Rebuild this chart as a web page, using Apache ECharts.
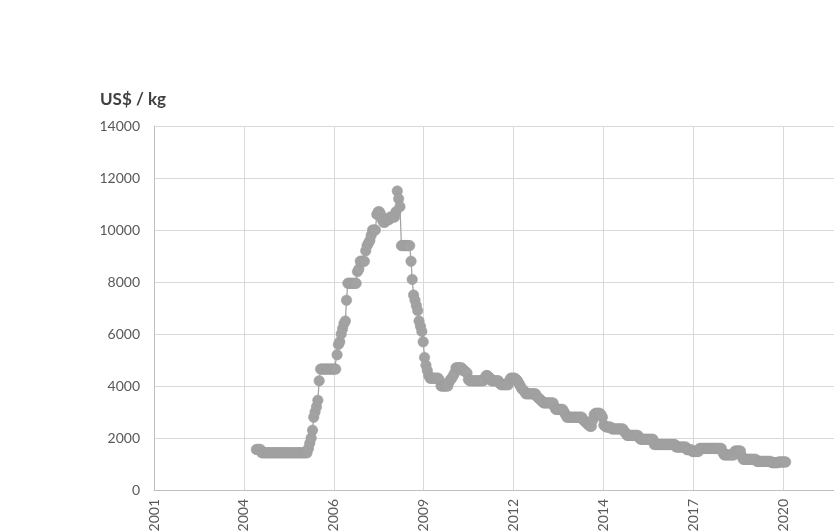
<!DOCTYPE html>
<html><head><meta charset="utf-8">
<script src="https://cdn.jsdelivr.net/npm/echarts@6/dist/echarts.min.js"></script>
<style>html,body{margin:0;padding:0;background:#fff}#c{width:834px;height:531px}</style>
</head><body><div id="c"></div>
<script>
const unitLabel = 'US$ / kg';
// Readings twice a month (1st and 16th), starting June 2004
const firstMonthOfData = 6;
const price2004 = [1560,1560,1560,1560,1430,1430,1430,1430,1430,1430,1430,1430,1430,1430];
const price2005 = [1430,1430,1430,1430,1430,1430,1430,1430,1430,1430,1430,1430,1430,1430,1430,1430,1430,1430,1430,1430,1430,1430,1430,1430];
const price2006 = [1600,1800,2000,2300,2800,3000,3200,3450,4200,4650,4650,4650,4650,4650,4650,4650,4650,4650,4650,4650,4650,5200,5600,5700];
const price2007 = [6000,6200,6400,6500,7300,7950,7950,7950,7950,7950,7950,7950,8400,8500,8800,8800,8800,8800,9200,9400,9500,9600,9800,10000];
const price2008 = [10000,10000,10600,10700,10700,10600,10400,10300,10300,10400,10400,10400,10500,10500,10500,10500,10700,11500,11200,10900,9400,9400,9400,9400];
const price2009 = [9400,9400,9400,8800,8100,7500,7300,7100,6900,6500,6300,6100,5700,5100,4800,4600,4400,4300,4300,4300,4300,4300,4300,4300];
const price2010 = [4200,4000,4000,4000,4000,4000,4000,4150,4250,4300,4400,4500,4700,4700,4700,4700,4700,4600,4600,4550,4500,4250,4200,4200];
const price2011 = [4200,4200,4200,4200,4200,4200,4200,4200,4200,4300,4400,4400,4350,4300,4200,4200,4200,4200,4200,4200,4100,4050,4050,4050];
const price2012 = [4050,4050,4050,4200,4300,4300,4300,4300,4250,4200,4100,4000,3900,3850,3800,3700,3700,3700,3700,3700,3700,3700,3700,3600];
const price2013 = [3550,3500,3450,3400,3350,3350,3350,3350,3350,3350,3350,3350,3200,3100,3100,3100,3100,3100,3100,3000,2900,2800,2800,2800];
const price2014 = [2800,2800,2800,2800,2800,2800,2800,2800,2800,2700,2650,2600,2550,2500,2450,2450,2700,2900,2950,2950,2950,2950,2900,2800];
const price2015 = [2500,2450,2420,2420,2420,2420,2350,2350,2350,2350,2350,2350,2350,2350,2350,2250,2200,2100,2100,2100,2100,2100,2100,2100];
const price2016 = [2100,2100,2000,1950,1950,1950,1950,1950,1950,1950,1950,1950,1950,1750,1750,1750,1750,1750,1750,1750,1750,1750,1750,1750];
const price2017 = [1750,1750,1750,1750,1750,1650,1650,1650,1650,1650,1650,1650,1650,1550,1550,1550,1550,1480,1480,1480,1480,1480,1600,1600];
const price2018 = [1600,1600,1600,1600,1600,1600,1600,1600,1600,1600,1600,1600,1600,1600,1600,1450,1350,1350,1350,1350,1350,1350,1350,1350];
const price2019 = [1500,1500,1500,1500,1500,1300,1180,1180,1180,1180,1180,1180,1180,1180,1180,1180,1100,1100,1100,1100,1100,1100,1100,1100];
const price2020 = [1100,1100,1100,1050,1050,1050,1050,1050,1080,1080,1080,1080,1080,1080];
const yearlyPrices = [
  [2004, price2004],[2005, price2005],[2006, price2006],[2007, price2007],[2008, price2008],
  [2009, price2009],[2010, price2010],[2011, price2011],[2012, price2012],[2013, price2013],
  [2014, price2014],[2015, price2015],[2016, price2016],[2017, price2017],[2018, price2018],
  [2019, price2019],[2020, price2020]
];
// X axis in spreadsheet day serials, gridlines every 1000 days
const xMin = 37000, xMax = 45000, xStep = 1000;
const yTicks = [0, 2000, 4000, 6000, 8000, 10000, 12000, 14000];

function serial(y, m, d) { return Date.UTC(y, m - 1, d) / 86400000 + 25569; }
const seriesData = [];
yearlyPrices.forEach(([yr, arr], i) => {
  const startM = i === 0 ? firstMonthOfData : 1;
  arr.forEach((v, j) => {
    const m = startM + Math.floor(j / 2);
    const d = j % 2 === 0 ? 1 : 16;
    seriesData.push([serial(yr, m, d), v]);
  });
});

const FONT = 'Lato, "Open Sans", sans-serif';
const chart = echarts.init(document.getElementById('c'), null, {renderer: 'canvas'});
chart.setOption({
  animation: false,
  backgroundColor: '#ffffff',
  title: {
    text: unitLabel, left: 95, top: 86,
    textStyle: {fontFamily: FONT, fontSize: 17, fontWeight: 'bold', color: '#404040'}
  },
  grid: {left: 154, top: 126, width: 719, height: 364, containLabel: false, outerBoundsMode: 'none'},
  xAxis: {
    type: 'value', min: xMin, max: xMax, interval: xStep,
    axisLine: {show: true, lineStyle: {color: '#bfbfbf', width: 1}},
    axisTick: {show: false},
    splitLine: {show: true, lineStyle: {color: '#d9d9d9', width: 1}},
    axisLabel: {
      rotate: 90, margin: 9, fontFamily: FONT, fontSize: 14, color: '#595959',
      formatter: v => String(new Date((v - 25569) * 86400000).getUTCFullYear())
    }
  },
  yAxis: {
    type: 'value', min: yTicks[0], max: yTicks[yTicks.length - 1], interval: yTicks[1] - yTicks[0],
    axisLine: {show: true, lineStyle: {color: '#bfbfbf', width: 1}},
    axisTick: {show: false},
    splitLine: {show: true, lineStyle: {color: '#d9d9d9', width: 1}},
    axisLabel: {margin: 14, fontFamily: FONT, fontSize: 14, color: '#595959', formatter: v => String(v)}
  },
  series: [{
    type: 'line', data: seriesData,
    symbol: 'circle', symbolSize: 10.5, showSymbol: true,
    itemStyle: {color: '#a2a2a2', borderColor: '#9c9c9c', borderWidth: 0.5},
    lineStyle: {color: '#a2a2a2', width: 1.25}
  }]
});
</script></body></html>
